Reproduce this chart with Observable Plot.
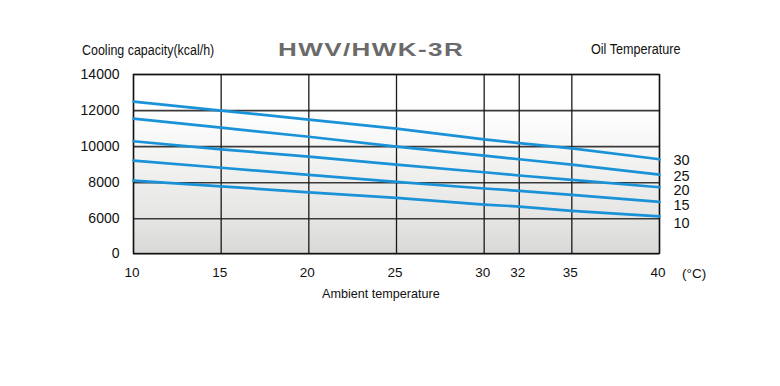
<!DOCTYPE html>
<html>
<head>
<meta charset="utf-8">
<script src="https://cdn.jsdelivr.net/npm/d3@7"></script>
<script src="https://cdn.jsdelivr.net/npm/@observablehq/plot@0.6"></script>
<style>
  html, body { margin: 0; padding: 0; background: #fff; }
  #wrap { position: relative; width: 780px; height: 386px; overflow: hidden; font-family: "Liberation Sans", Arial, Helvetica, sans-serif; }
  #wrap svg { position: absolute; left: 0; top: 0; }
  .t { position: absolute; white-space: nowrap; line-height: 1; transform-origin: left top; color: #111; }
</style>
</head>
<body>
<div id="wrap">
  <div class="t" id="ylab" style="left:81.5px; top:43.2px; font-size:14px; transform:scaleX(0.89);">Cooling capacity(kcal/h)</div>
  <div class="t" id="title" style="left:278px; top:41px; font-size:18.6px; font-weight:bold; color:#6b6b6b; letter-spacing:1px; transform:scaleX(1.4);">HWV/HWK-3R</div>
  <div class="t" id="oil" style="left:591px; top:42.2px; font-size:14px; transform:scaleX(0.9);">Oil Temperature</div>
  <div class="t" id="xlab" style="left:321.5px; top:287.3px; font-size:13px; transform:scaleX(0.97);">Ambient temperature</div>
  <div class="t" id="unit" style="left:682px; top:266.6px; font-size:13.5px;">(°C)</div>
</div>
<script>
// ---- data ----
const temps = [10, 15, 20, 25, 30, 32, 35, 40];
const oilTemps = [30, 25, 20, 15, 10];
const cap30 = [12500, 12000, 11500, 11000, 10400, 10200, 9900, 9300];
const cap25 = [11550, 11050, 10550, 10000, 9500, 9300, 9000, 8450];
const cap20 = [10300, 9850, 9450, 9000, 8580, 8400, 8160, 7750];
const cap15 = [9230, 8830, 8440, 8050, 7680, 7550, 7330, 6940];
const cap10 = [8120, 7800, 7470, 7160, 6790, 6680, 6440, 6130];
const xTicks = [10, 15, 20, 25, 30, 32, 35, 40];
const yTicks = [0, 6000, 8000, 10000, 12000, 14000];

const seriesList = [cap30, cap25, cap20, cap15, cap10];
const rows = [];
seriesList.forEach((vals, i) => {
  vals.forEach((v, j) => rows.push({oil: oilTemps[i], t: temps[j], cap: v}));
});
const ends = seriesList.map((vals, i) => ({oil: oilTemps[i], t: temps[temps.length - 1], cap: vals[vals.length - 1]}));

const blue = "#1a92d8";
// small pixel nudges so the end labels do not collide (style only)
const labelNudge = [1, 1.5, 3.5, 4, 6.5];

const chart = Plot.plot({
  width: 780,
  height: 386,
  marginLeft: 133,
  marginRight: 121,
  marginTop: 74,
  marginBottom: 133,
  style: {background: "transparent", fontFamily: "'Liberation Sans', Arial, Helvetica, sans-serif", color: "#111"},
  x: {type: "linear", domain: [10, 40], axis: null},
  y: {type: "linear", domain: [0, 6000, 14000], range: [253.3, 218.3, 74], axis: null},
  marks: [
    Plot.frame({fill: "url(#bgGrad)", stroke: "none"}),
    Plot.ruleY(yTicks, {y: d => d, stroke: "#3a3a3a", strokeWidth: 1.6}),
    Plot.ruleX(xTicks, {x: d => d, stroke: "#1a1a1a", strokeWidth: 1.3}),
    Plot.frame({stroke: "#111", strokeWidth: 1.4}),
    Plot.line(rows, {x: "t", y: "cap", z: "oil", stroke: blue, strokeWidth: 2.7}),
    Plot.text(xTicks, {x: d => d, frameAnchor: "bottom", dy: 23.5, dx: -1.5, text: d => String(d), fontSize: 13.5, fill: "#111"}),
    Plot.text(yTicks, {y: d => d, frameAnchor: "left", dx: -14, textAnchor: "end", text: d => String(d), fontSize: 14, fill: "#111"}),
    ...ends.map((e, i) => Plot.text([e], {x: "t", y: "cap", dx: 14, dy: labelNudge[i], textAnchor: "start", text: d => String(d.oil), fontSize: 14.5, fill: "#111"}))
  ]
});

// background gradient definition
const ns = "http://www.w3.org/2000/svg";
const defs = document.createElementNS(ns, "defs");
const grad = document.createElementNS(ns, "linearGradient");
grad.setAttribute("id", "bgGrad");
grad.setAttribute("x1", "0"); grad.setAttribute("y1", "0");
grad.setAttribute("x2", "0"); grad.setAttribute("y2", "1");
[["0", "#ffffff"], ["0.2", "#ffffff"], ["0.8", "#e5e5e3"], ["1", "#d9d9d7"]].forEach(([o, c]) => {
  const s = document.createElementNS(ns, "stop");
  s.setAttribute("offset", o);
  s.setAttribute("stop-color", c);
  grad.appendChild(s);
});
defs.appendChild(grad);
chart.insertBefore(defs, chart.firstChild);

const wrap = document.getElementById("wrap");
wrap.insertBefore(chart, wrap.firstChild);
</script>
</body>
</html>
